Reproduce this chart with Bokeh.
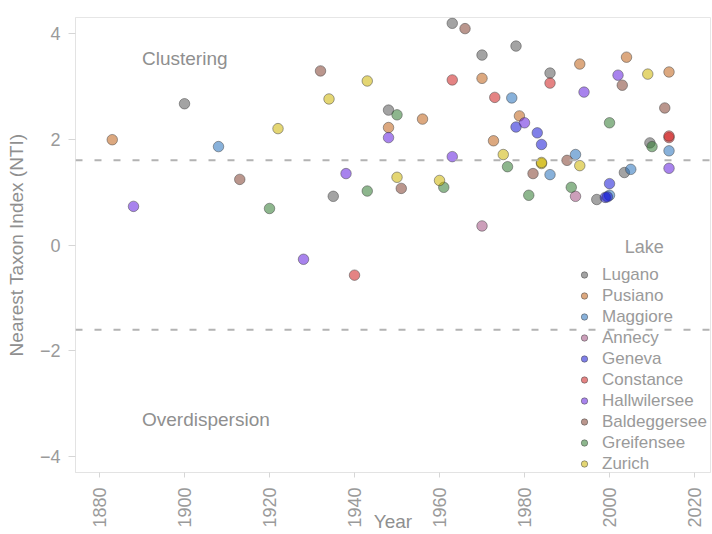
import math
from bokeh.plotting import figure
from bokeh.models import FixedTicker, Span, Label, Legend, LegendItem, ColumnDataSource
from bokeh.embed import file_html
from bokeh.resources import INLINE

# ---------------- data ----------------
lakes = ["Lugano", "Pusiano", "Maggiore", "Annecy", "Geneva", "Constance",
         "Hallwilersee", "Baldeggersee", "Greifensee", "Zurich"]
lake_colors = ["#575757", "#c06116", "#2671bc", "#a35082", "#1616d5", "#cd1e1e",
               "#611ede", "#823f2f", "#2f7a2f", "#cdb400"]

lugano_year = [1900, 1935, 1948, 1963, 1970, 1978, 1986, 1997, 2003.5, 2009.5]
lugano_nti = [2.67, 0.92, 2.55, 4.19, 3.59, 3.76, 3.25, 0.86, 1.37, 1.93]

pusiano_year = [1883, 1948, 1956, 1970, 1972.7, 1978.8, 1993, 2004, 2014]
pusiano_nti = [1.99, 2.22, 2.38, 3.15, 1.97, 2.44, 3.42, 3.55, 3.27]

maggiore_year = [1908, 1977, 1986, 1992, 2000, 2005, 2014]
maggiore_nti = [1.86, 2.78, 1.33, 1.71, 0.94, 1.43, 1.78]

annecy_year = [1970, 1992]
annecy_nti = [0.36, 0.92]

geneva_year = [1978, 1983, 1984, 2000, 1999, 1999.5]
geneva_nti = [2.23, 2.12, 1.90, 1.16, 0.90, 0.91]

constance_year = [1940, 1963, 1973, 1986, 2014, 2014]
constance_nti = [-0.57, 3.12, 2.79, 3.06, 2.03, 2.06]

hallwilersee_year = [1888, 1928, 1938, 1948, 1963, 1980, 1994, 2002, 2014]
hallwilersee_nti = [0.73, -0.27, 1.35, 2.03, 1.67, 2.31, 2.89, 3.21, 1.45]

baldeggersee_year = [1913, 1932, 1951, 1966, 1982, 1990, 2003, 2013]
baldeggersee_nti = [1.24, 3.29, 1.07, 4.09, 1.35, 1.60, 3.02, 2.59]

greifensee_year = [1920, 1943, 1950, 1961, 1976, 1981, 1991, 2000, 2010]
greifensee_nti = [0.69, 1.02, 2.46, 1.09, 1.48, 0.94, 1.09, 2.31, 1.86]

zurich_year = [1922, 1934, 1943, 1950, 1960, 1975, 1984, 1984, 1993, 2009]
zurich_nti = [2.20, 2.76, 3.10, 1.28, 1.22, 1.71, 1.54, 1.56, 1.50, 3.23]

series_year = [lugano_year, pusiano_year, maggiore_year, annecy_year, geneva_year,
               constance_year, hallwilersee_year, baldeggersee_year, greifensee_year, zurich_year]
series_nti = [lugano_nti, pusiano_nti, maggiore_nti, annecy_nti, geneva_nti,
              constance_nti, hallwilersee_nti, baldeggersee_nti, greifensee_nti, zurich_nti]

nti_thresholds = [1.6, -1.6]
x_ticks = [1880, 1900, 1920, 1940, 1960, 1980, 2000, 2020]
y_ticks = [-4, -2, 0, 2, 4]

# ---------------- figure ----------------
FONT = "Liberation Sans"
TXT = "#9a9a9a"
TXT2 = "#8f8f8f"

p = figure(width=712, height=534, x_range=(1874.35, 2023.76), y_range=(-4.3, 4.3),
           output_backend="svg", toolbar_location=None,
           min_border_left=75, min_border_top=17, min_border_right=2, min_border_bottom=59)
p.background_fill_color = "white"
p.border_fill_color = "white"
p.outline_line_color = "#e6e6e6"
p.outline_line_width = 1
p.xgrid.visible = False
p.ygrid.visible = False

for ax in (p.xaxis[0], p.yaxis[0]):
    ax.axis_line_color = "#e3e3e3"
    ax.major_tick_line_color = "#d6d6d6"
    ax.minor_tick_line_color = None
    ax.major_tick_in = 0
    ax.major_label_text_color = TXT
    ax.major_label_text_font = FONT
    ax.axis_label_text_color = TXT2
    ax.axis_label_text_font = FONT
    ax.axis_label_text_font_style = "normal"
    ax.axis_label_text_font_size = "19px"

p.xaxis.ticker = FixedTicker(ticks=x_ticks)
p.xaxis.major_label_orientation = math.pi / 2
p.xaxis.major_label_text_font_size = "18px"
p.xaxis.major_tick_out = 5
p.xaxis.major_label_standoff = 10
p.xaxis.axis_label = "Year"
p.xaxis.axis_label_standoff = -20

p.yaxis.ticker = FixedTicker(ticks=y_ticks)
p.yaxis.major_label_overrides = {t: str(t).replace("-", "\u2212") for t in y_ticks}
p.yaxis.major_label_text_font_size = "18px"
p.yaxis.major_tick_out = 7
p.yaxis.major_label_standoff = 8
p.yaxis.axis_label = "Nearest Taxon Index (NTI)"
p.yaxis.axis_label_standoff = 10

for loc in nti_thresholds:
    p.add_layout(Span(location=loc, dimension="width", line_color="#b3b3b3",
                      line_width=2, line_dash="7 12"))

items = []
for lake, col, xs, ys in zip(lakes, lake_colors, series_year, series_nti):
    src = ColumnDataSource(dict(x=xs, y=ys))
    r = p.scatter("x", "y", source=src, size=10.5, fill_color=col, fill_alpha=0.55,
                  line_color="#444444", line_alpha=0.5, line_width=1)
    items.append(LegendItem(label=lake, renderers=[r]))

legend = Legend(items=items, location=(501, -2), padding=0, margin=0, spacing=0,
                glyph_width=16, glyph_height=21, label_height=21, label_standoff=10,
                label_text_font=FONT, label_text_font_size="17px", label_text_color=TXT,
                background_fill_alpha=0, border_line_alpha=0)
p.add_layout(legend, "center")

p.add_layout(Label(x=2008.2, y=-0.04, text="Lake", text_align="center", text_baseline="middle",
                   text_font=FONT, text_font_size="18px", text_color=TXT))
p.add_layout(Label(x=1890, y=3.53, text="Clustering", text_align="left", text_baseline="middle",
                   text_font=FONT, text_font_size="19px", text_color=TXT2))
p.add_layout(Label(x=1890, y=-3.29, text="Overdispersion", text_align="left", text_baseline="middle",
                   text_font=FONT, text_font_size="19px", text_color=TXT2))

open("out.html", "w").write(file_html(p, INLINE))
